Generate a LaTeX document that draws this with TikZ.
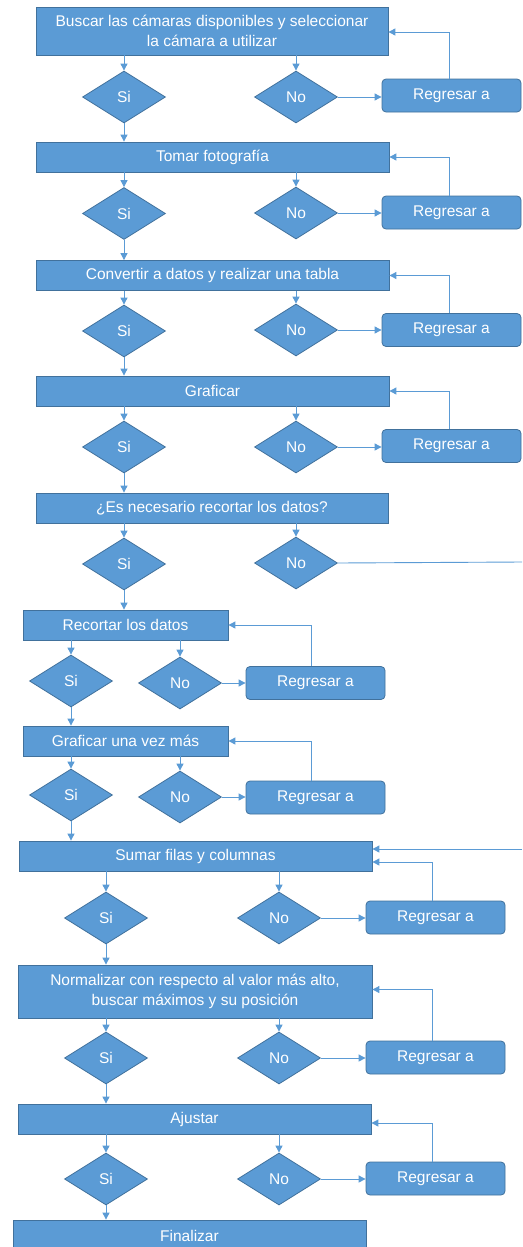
\documentclass[tikz,border=0pt]{standalone}
\usepackage{fontspec}
\setmainfont{Liberation Sans}
\usetikzlibrary{arrows.meta,shapes.geometric}
\definecolor{azul}{HTML}{5B9BD5}
\definecolor{borde}{HTML}{41719C}

\begin{document}
\begin{tikzpicture}[x=1pt,y=-1pt,>={Triangle[length=7pt,width=7pt]},
    every node/.style={font=\fontsize{15.5}{19.5}\selectfont,text=white,inner sep=0pt},
    paso/.style={rectangle,fill=azul,draw=borde,line width=0.8pt,minimum height=30pt,align=center},
    decision/.style={diamond,fill=azul,draw=borde,line width=0.8pt,aspect=1.6,minimum width=83pt,minimum height=52pt},
    regreso/.style={rectangle,rounded corners=4pt,fill=azul,draw=borde,line width=0.8pt,minimum width=139pt,minimum height=33pt},
    linea/.style={color=azul,line width=0.9pt},
    vuelta/.style={to path={|- (\tikztotarget) \tikztonodes}}]

    \useasboundingbox (0,0) rectangle (522,1247);

    % bloques principales
    \node[paso,minimum width=352pt,minimum height=48pt] (b1) at (212,31) {Buscar las cámaras disponibles y seleccionar\\la cámara a utilizar};
    \node[paso,minimum width=353pt] (b2) at (212.5,157) {Tomar fotografía};
    \node[paso,minimum width=353pt] (b3) at (212.5,275.5) {Convertir a datos y realizar una tabla};
    \node[paso,minimum width=353pt] (b4) at (212.5,391) {Graficar};
    \node[paso,minimum width=352pt] (b5) at (212,508) {¿Es necesario recortar los datos?};
    \node[paso,minimum width=205pt] (b6) at (125.5,625) {Recortar los datos};
    \node[paso,minimum width=205pt] (b7) at (125.5,741) {Graficar una vez más};
    \node[paso,minimum width=353pt] (b8) at (195.5,856) {Sumar filas y columnas};
    \node[paso,minimum width=354pt,minimum height=53pt] (b9) at (195,991.5) {Normalizar con respecto al valor más alto,\\buscar máximos y su posición};
    \node[paso,minimum width=353pt] (b10) at (194.5,1119) {Ajustar};
    \node[paso,minimum width=353pt,minimum height=32pt] (b11) at (189.5,1236) {Finalizar};

    % decisiones
    \node[decision] (si1) at (124,97) {Si};
    \node[decision] (no1) at (296,97) {No};
    \node[decision] (si2) at (124,213.5) {Si};
    \node[decision] (no2) at (296,213) {No};
    \node[decision] (si3) at (124,331) {Si};
    \node[decision] (no3) at (296,330) {No};
    \node[decision] (si4) at (124,447) {Si};
    \node[decision] (no4) at (296,447) {No};
    \node[decision] (si5) at (124,564) {Si};
    \node[decision] (no5) at (296,563) {No};
    \node[decision] (si6) at (71,681) {Si};
    \node[decision] (no6) at (180,683) {No};
    \node[decision] (si7) at (71,795) {Si};
    \node[decision] (no7) at (180,797) {No};
    \node[decision] (si8) at (106,918) {Si};
    \node[decision] (no8) at (279,918) {No};
    \node[decision] (si9) at (106,1058) {Si};
    \node[decision] (no9) at (279,1058) {No};
    \node[decision] (si10) at (106,1179) {Si};
    \node[decision] (no10) at (279,1179) {No};

    % regresar
    \node[regreso] (r1) at (451.5,95.5) {Regresar a};
    \node[regreso] (r2) at (451.5,212.5) {Regresar a};
    \node[regreso] (r3) at (451.5,330) {Regresar a};
    \node[regreso] (r4) at (451.5,446) {Regresar a};
    \node[regreso] (r6) at (315.5,683) {Regresar a};
    \node[regreso] (r7) at (315.5,797.5) {Regresar a};
    \node[regreso] (r8) at (435.5,917.5) {Regresar a};
    \node[regreso] (r9) at (435.5,1057.5) {Regresar a};
    \node[regreso] (r10) at (435.5,1178.5) {Regresar a};

    \coordinate (sale5) at (522,562);
    \coordinate (entra8) at (522,849);

    % bajadas a las decisiones
    \path[linea,->] (si1 |- b1.south) edge (si1.north)
                    (no1 |- b1.south) edge (no1.north)
                    (si2 |- b2.south) edge (si2.north)
                    (no2 |- b2.south) edge (no2.north)
                    (si3 |- b3.south) edge (si3.north)
                    (no3 |- b3.south) edge (no3.north)
                    (si4 |- b4.south) edge (si4.north)
                    (no4 |- b4.south) edge (no4.north)
                    (si5 |- b5.south) edge (si5.north)
                    (no5 |- b5.south) edge (no5.north)
                    (si6 |- b6.south) edge (si6.north)
                    (no6 |- b6.south) edge (no6.north)
                    (si7 |- b7.south) edge (si7.north)
                    (no7 |- b7.south) edge (no7.north)
                    (si8 |- b8.south) edge (si8.north)
                    (no8 |- b8.south) edge (no8.north)
                    (si9 |- b9.south) edge (si9.north)
                    (no9 |- b9.south) edge (no9.north)
                    (si10 |- b10.south) edge (si10.north)
                    (no10 |- b10.south) edge (no10.north);

    % Si hacia el siguiente paso
    \path[linea,->] (si1.south) edge (si1 |- b2.north)
                    (si2.south) edge (si2 |- b3.north)
                    (si3.south) edge (si3 |- b4.north)
                    (si4.south) edge (si4 |- b5.north)
                    (si5.south) edge (si5 |- b6.north)
                    (si6.south) edge (si6 |- b7.north)
                    (si7.south) edge (si7 |- b8.north)
                    (si8.south) edge (si8 |- b9.north)
                    (si9.south) edge (si9 |- b10.north)
                    (si10.south) edge (si10 |- b11.north);

    % No hacia regresar
    \path[linea,->] (no1.east) edge (no1.east -| r1.west)
                    (no2.east) edge (no2.east -| r2.west)
                    (no3.east) edge (no3.east -| r3.west)
                    (no4.east) edge (no4.east -| r4.west)
                    (no6.east) edge (no6.east -| r6.west)
                    (no7.east) edge (no7.east -| r7.west)
                    (no8.east) edge (no8.east -| r8.west)
                    (no9.east) edge (no9.east -| r9.west)
                    (no10.east) edge (no10.east -| r10.west);

    % regresar al paso
    \path[linea,->] ([xshift=-2.5pt]r1.north) edge[vuelta] ([yshift=-1pt]b1.east)
                    ([xshift=-2.5pt]r2.north) edge[vuelta] (b2.east)
                    ([xshift=-2.5pt]r3.north) edge[vuelta] (b3.east)
                    ([xshift=-2.5pt]r4.north) edge[vuelta] (b4.east)
                    ([xshift=-4pt]r6.north) edge[vuelta] (b6.east)
                    ([xshift=-4pt]r7.north) edge[vuelta] (b7.east)
                    ([xshift=-3.5pt]r8.north) edge[vuelta] ([yshift=-6pt]b8.east)
                    ([xshift=-3.5pt]r9.north) edge[vuelta] ([yshift=2pt]b9.east)
                    ([xshift=-3.5pt]r10.north) edge[vuelta] ([yshift=-4pt]b10.east);

    % salto de recortar a sumar
    \draw[linea] (no5.east) -- (sale5);
    \draw[linea,->] (entra8) -- ([yshift=7pt]b8.east);

\end{tikzpicture}
\end{document}
